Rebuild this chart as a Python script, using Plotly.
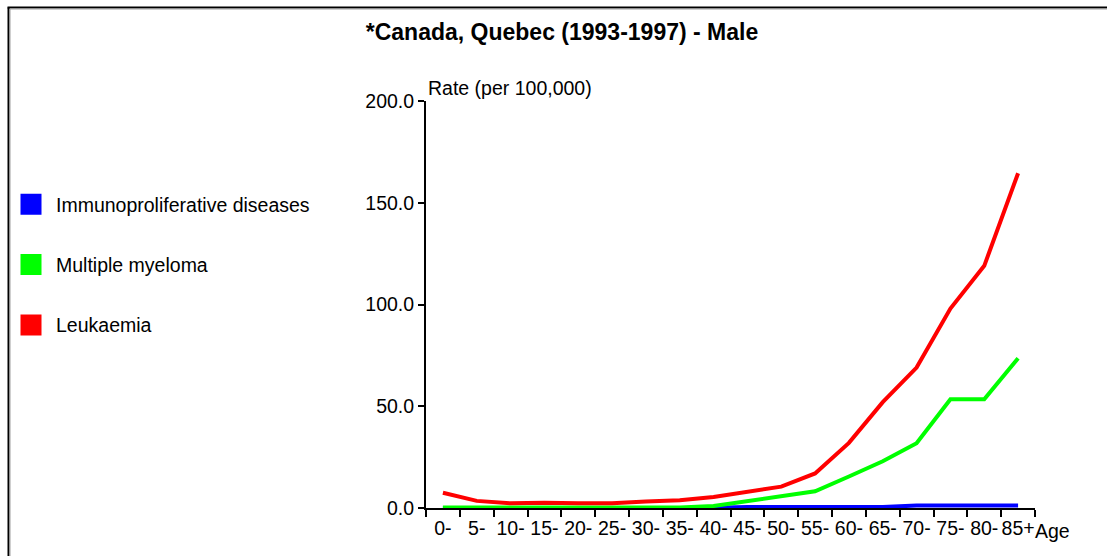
import plotly.graph_objects as go

# ---- data ----
age_groups = ["0-", "5-", "10-", "15-", "20-", "25-", "30-", "35-", "40-",
              "45-", "50-", "55-", "60-", "65-", "70-", "75-", "80-", "85+"]
immunoproliferative = [0, 0, 0, 0, 0, 0, 0, 0, 0.1, 0.5, 0.5, 0.5, 0.5, 0.5, 1.2, 1.2, 1.2, 1.2]
multiple_myeloma = [0.3, 0.3, 0.3, 0.3, 0.3, 0.3, 0.3, 0.3, 1.0, 3.5, 6.0, 8.2, 15.5, 23.0, 31.8, 53.4, 53.4, 73.6]
leukaemia = [7.5, 3.5, 2.3, 2.6, 2.3, 2.3, 3.2, 3.8, 5.4, 7.8, 10.5, 17.0, 32.0, 52.0, 69.0, 98.0, 119.0, 164.5]
y_ticks = [0, 50, 100, 150, 200]

series = [
    ("Immunoproliferative diseases", immunoproliferative, "#0000FF"),
    ("Multiple myeloma", multiple_myeloma, "#00FF00"),
    ("Leukaemia", leukaemia, "#FF0000"),
]

W, H = 1107, 556
L, R, T, B = 426, 72, 101, 48
PW, PH = W - L - R, H - T - B


def px_x(p):
    return (p - L) / PW


def px_y(p):
    return (H - B - p) / PH


FONT = "Liberation Sans, Arial, sans-serif"
FS = 19.5

fig = go.Figure()
for name, vals, col in series:
    fig.add_trace(go.Scatter(x=age_groups, y=vals, mode="lines", name=name,
                             line=dict(color=col, width=4), showlegend=False,
                             hoverinfo="x+y+name"))
for i, (name, vals, col) in enumerate(series):
    fig.add_trace(go.Scatter(x=[None], y=[None], mode="markers", name=name,
                             legendgroup=f"g{i}",
                             marker=dict(symbol="square", size=16, color=col,
                                         line=dict(color=col, width=5))))

shapes = [
    dict(type="line", xref="paper", yref="paper", x0=px_x(8.5), x1=px_x(8.5),
         y0=px_y(7.5), y1=px_y(H + 5), line=dict(color="black", width=2)),
    dict(type="line", xref="paper", yref="paper", x0=px_x(7.5), x1=px_x(W + 5),
         y0=px_y(7.5), y1=px_y(7.5), line=dict(color="black", width=2)),
    dict(type="line", xref="paper", yref="paper", x0=px_x(10), x1=px_x(10),
         y0=px_y(9), y1=px_y(H + 5), line=dict(color="#a0a0a0", width=1)),
    dict(type="line", xref="paper", yref="paper", x0=px_x(10), x1=px_x(W + 5),
         y0=px_y(9), y1=px_y(9), line=dict(color="#a0a0a0", width=1)),
]

fig.update_layout(
    width=W, height=H,
    margin=dict(l=L, r=R, t=T, b=B, autoexpand=False),
    paper_bgcolor="white", plot_bgcolor="white",
    font=dict(family=FONT, size=FS, color="black"),
    title=dict(text="<b>*Canada, Quebec (1993-1997) - Male</b>",
               xref="container", x=562 / W, xanchor="center",
               yref="container", y=1 - 32 / H, yanchor="middle",
               font=dict(family=FONT, size=23, color="black")),
    xaxis=dict(type="category", categoryorder="array", categoryarray=age_groups,
               range=[-0.5, len(age_groups) - 0.5], tickson="boundaries",
               ticks="outside", ticklen=7, tickwidth=2, tickcolor="black",
               tickangle=0, ticklabelstandoff=2,
               showline=True, linecolor="black", linewidth=2,
               showgrid=False, zeroline=False, automargin=False,
               tickfont=dict(family=FONT, size=FS, color="black")),
    yaxis=dict(range=[0, 200], tickvals=y_ticks, tickformat=".1f",
               ticks="outside", ticklen=6, tickwidth=2, tickcolor="black",
               showline=True, linecolor="black", linewidth=2,
               showgrid=False, zeroline=False, automargin=False,
               tickfont=dict(family=FONT, size=FS, color="black")),
    legend=dict(x=px_x(6), xanchor="left", y=px_y(185), yanchor="top",
                traceorder="grouped", tracegroupgap=32, itemwidth=40,
                font=dict(family=FONT, size=FS, color="black"),
                bgcolor="rgba(0,0,0,0)", itemsizing="trace"),
    annotations=[
        dict(text="Rate (per 100,000)", xref="paper", yref="paper", x=0, y=1,
             xanchor="left", yanchor="bottom", showarrow=False,
             font=dict(family=FONT, size=FS, color="black")),
        dict(text="Age", xref="paper", yref="paper", x=1, y=0,
             xanchor="left", yanchor="top", yshift=-10, xshift=-2, showarrow=False,
             font=dict(family=FONT, size=FS, color="black")),
    ],
    shapes=shapes,
    showlegend=True,
)

fig.write_html("out.html", config={"displayModeBar": False},
               post_script="document.body.style.margin='0';")
